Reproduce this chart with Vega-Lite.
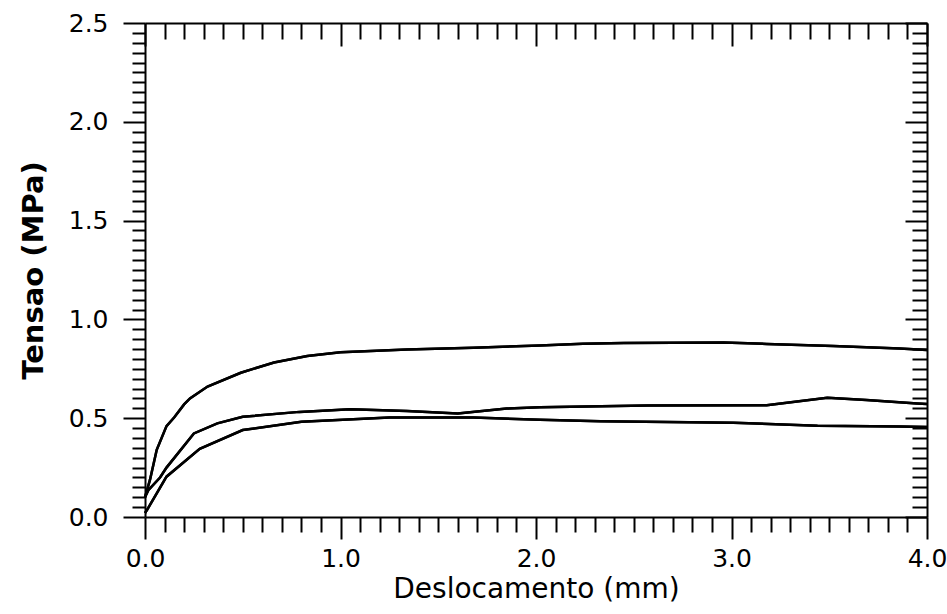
{
  "$schema": "https://vega.github.io/schema/vega-lite/v6.json",
  "width": 782,
  "height": 494,
  "autosize": "none",
  "padding": {"left": 145, "top": 23, "right": 20, "bottom": 97},
  "background": "white",
  "config": {
    "view": {"stroke": null},
    "axis": {"grid": false, "domainColor": "black", "domainWidth": 2, "tickColor": "black", "tickWidth": 2, "labelColor": "black", "titleColor": "black", "labelFont": "DejaVu Sans", "titleFont": "DejaVu Sans", "labelFontSize": 25, "labelOverlap": false, "labelFlush": false}
  },
  "data": {
    "values": [
      {"s": "A", "x": 0.0, "y": 0.1},
      {"s": "A", "x": 0.026, "y": 0.19},
      {"s": "A", "x": 0.06, "y": 0.34},
      {"s": "A", "x": 0.11, "y": 0.46},
      {"s": "A", "x": 0.15, "y": 0.505},
      {"s": "A", "x": 0.2, "y": 0.57},
      {"s": "A", "x": 0.23, "y": 0.6},
      {"s": "A", "x": 0.32, "y": 0.66},
      {"s": "A", "x": 0.49, "y": 0.73},
      {"s": "A", "x": 0.66, "y": 0.782},
      {"s": "A", "x": 0.83, "y": 0.815},
      {"s": "A", "x": 1.0, "y": 0.834},
      {"s": "A", "x": 1.34, "y": 0.848},
      {"s": "A", "x": 1.68, "y": 0.856},
      {"s": "A", "x": 2.02, "y": 0.868},
      {"s": "A", "x": 2.24, "y": 0.877},
      {"s": "A", "x": 2.45, "y": 0.881},
      {"s": "A", "x": 2.96, "y": 0.883},
      {"s": "A", "x": 3.18, "y": 0.876},
      {"s": "A", "x": 3.52, "y": 0.865},
      {"s": "A", "x": 3.86, "y": 0.853},
      {"s": "A", "x": 4.0, "y": 0.845},
      {"s": "B", "x": 0.0, "y": 0.1},
      {"s": "B", "x": 0.017, "y": 0.136},
      {"s": "B", "x": 0.077, "y": 0.2},
      {"s": "B", "x": 0.11, "y": 0.25},
      {"s": "B", "x": 0.25, "y": 0.423},
      {"s": "B", "x": 0.37, "y": 0.474},
      {"s": "B", "x": 0.5, "y": 0.507},
      {"s": "B", "x": 0.79, "y": 0.532},
      {"s": "B", "x": 1.05, "y": 0.545},
      {"s": "B", "x": 1.34, "y": 0.537},
      {"s": "B", "x": 1.6, "y": 0.524},
      {"s": "B", "x": 1.85, "y": 0.549},
      {"s": "B", "x": 2.02, "y": 0.555},
      {"s": "B", "x": 2.57, "y": 0.564},
      {"s": "B", "x": 3.18, "y": 0.566},
      {"s": "B", "x": 3.49, "y": 0.603},
      {"s": "B", "x": 3.69, "y": 0.592},
      {"s": "B", "x": 3.95, "y": 0.575},
      {"s": "B", "x": 4.0, "y": 0.572},
      {"s": "C", "x": 0.0, "y": 0.02},
      {"s": "C", "x": 0.01, "y": 0.035},
      {"s": "C", "x": 0.11, "y": 0.204},
      {"s": "C", "x": 0.28, "y": 0.345},
      {"s": "C", "x": 0.5, "y": 0.44},
      {"s": "C", "x": 0.8, "y": 0.482},
      {"s": "C", "x": 1.25, "y": 0.504},
      {"s": "C", "x": 1.68, "y": 0.504},
      {"s": "C", "x": 2.02, "y": 0.492},
      {"s": "C", "x": 2.33, "y": 0.484},
      {"s": "C", "x": 3.01, "y": 0.477},
      {"s": "C", "x": 3.44, "y": 0.462},
      {"s": "C", "x": 3.86, "y": 0.458},
      {"s": "C", "x": 4.0, "y": 0.455}
    ]
  },
  "layer": [
    {
      "mark": {"type": "line", "color": "black", "strokeWidth": 2.5},
      "encoding": {
        "x": {"field": "x", "type": "quantitative", "scale": {"domain": [0, 4], "nice": false},
          "axis": {"orient": "bottom", "title": "Deslocamento  (mm)", "titleFontSize": 28, "titleFontWeight": "normal", "titlePadding": 4,
            "values": [0,0.1,0.2,0.3,0.4,0.5,0.6,0.7,0.8,0.9,1,1.1,1.2,1.3,1.4,1.5,1.6,1.7,1.8,1.9,2,2.1,2.2,2.3,2.4,2.5,2.6,2.7,2.8,2.9,3,3.1,3.2,3.3,3.4,3.5,3.6,3.7,3.8,3.9,4],
            "labelExpr": "abs(datum.value - round(datum.value)) < 1e-6 ? format(datum.value, '.1f') : ''",
            "tickSize": {"condition": {"test": "abs(datum.value - round(datum.value)) < 1e-6", "value": 22}, "value": 15},
            "labelPadding": 7}},
        "y": {"field": "y", "type": "quantitative", "scale": {"domain": [0, 2.5], "nice": false},
          "axis": {"orient": "left", "title": "Tensao  (MPa)", "titleFontSize": 29, "titleFontWeight": "bold", "titlePadding": 20,
            "values": [0,0.05,0.1,0.15,0.2,0.25,0.3,0.35,0.4,0.45,0.5,0.55,0.6,0.65,0.7,0.75,0.8,0.85,0.9,0.95,1,1.05,1.1,1.15,1.2,1.25,1.3,1.35,1.4,1.45,1.5,1.55,1.6,1.65,1.7,1.75,1.8,1.85,1.9,1.95,2,2.05,2.1,2.15,2.2,2.25,2.3,2.35,2.4,2.45,2.5],
            "labelExpr": "abs(datum.value*2 - round(datum.value*2)) < 1e-6 ? format(datum.value, '.1f') : ''",
            "tickSize": {"condition": {"test": "abs(datum.value*2 - round(datum.value*2)) < 1e-6", "value": 22}, "value": 13},
            "labelPadding": 15}},
        "detail": {"field": "s", "type": "nominal"}
      }
    },
    {
      "mark": {"type": "line", "color": "black", "strokeWidth": 2.5},
      "encoding": {
        "x": {"field": "x", "type": "quantitative",
          "axis": {"orient": "top", "title": null, "labels": false,
            "values": [0,0.1,0.2,0.3,0.4,0.5,0.6,0.7,0.8,0.9,1,1.1,1.2,1.3,1.4,1.5,1.6,1.7,1.8,1.9,2,2.1,2.2,2.3,2.4,2.5,2.6,2.7,2.8,2.9,3,3.1,3.2,3.3,3.4,3.5,3.6,3.7,3.8,3.9,4],
            "tickSize": {"condition": {"test": "abs(datum.value - round(datum.value)) < 1e-6", "value": -23}, "value": -16}}},
        "y": {"field": "y", "type": "quantitative",
          "axis": {"orient": "right", "title": null, "labels": false,
            "values": [0,0.05,0.1,0.15,0.2,0.25,0.3,0.35,0.4,0.45,0.5,0.55,0.6,0.65,0.7,0.75,0.8,0.85,0.9,0.95,1,1.05,1.1,1.15,1.2,1.25,1.3,1.35,1.4,1.45,1.5,1.55,1.6,1.65,1.7,1.75,1.8,1.85,1.9,1.95,2,2.05,2.1,2.15,2.2,2.25,2.3,2.35,2.4,2.45,2.5],
            "tickSize": {"condition": {"test": "abs(datum.value*2 - round(datum.value*2)) < 1e-6", "value": -22}, "value": -15}}},
        "detail": {"field": "s", "type": "nominal"}
      }
    }
  ],
  "resolve": {"axis": {"x": "independent", "y": "independent"}}
}
